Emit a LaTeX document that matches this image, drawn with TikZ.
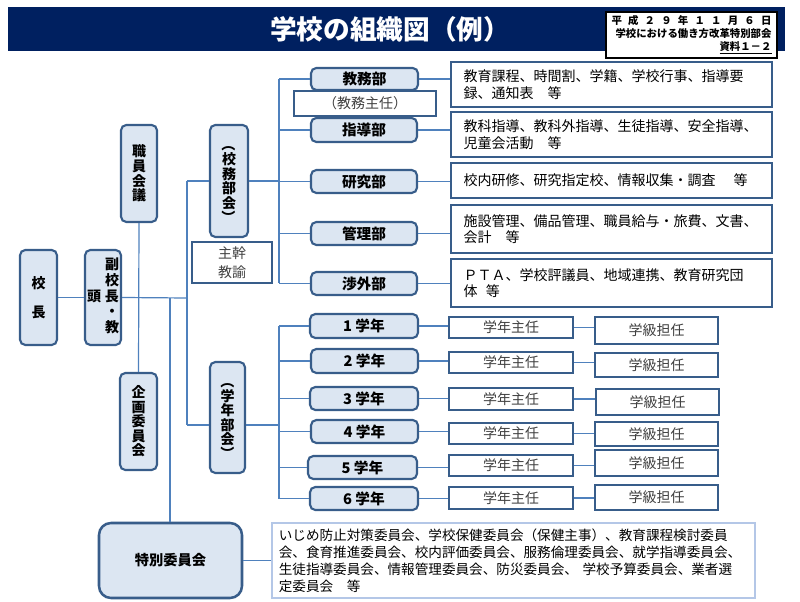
\documentclass[tikz,border=0pt]{standalone}
\usepackage{fontspec}
\setmainfont{Noto Sans CJK JP}
\definecolor{nodeF}{HTML}{DCE6F2}
\definecolor{nodeB}{HTML}{385D8A}
\definecolor{lineC}{HTML}{4F81BD}
\definecolor{titleC}{HTML}{002060}
\definecolor{thinB}{HTML}{B4C7E7}
\definecolor{txtG}{HTML}{404040}
\newcommand\mybox[7]{\node[#6, minimum width={(#4-#2)*0.75pt}, minimum height={(#5-#3)*0.75pt}] (#1) at ({(#2+#4)/2},{(#3+#5)/2}) {#7};}
\newcommand\vparL{\rotatebox[origin=c]{-90}{（}}
\newcommand\vparR{\rotatebox[origin=c]{-90}{）}}
\tikzset{
  lbox/.style={draw=nodeB, fill=nodeF, line width=1.6pt, rounded corners=4pt, inner sep=0pt, align=center, font=\bfseries\fontsize{10.5}{11}\selectfont},
  vbox/.style={lbox, font=\bfseries\fontsize{10.5}{10.9}\selectfont},
  wbox/.style={draw=nodeB, fill=white, line width=1.8pt, inner sep=0pt, align=center, text=txtG, font=\fontsize{10.5}{14.25}\selectfont},
  dbox/.style={draw=nodeB, fill=white, line width=1.9pt, inner sep=0pt, align=left, text=black, font=\fontsize{10.5}{12.4}\selectfont},
  conn/.style={draw=lineC, line width=0.9pt},
}
\begin{document}
\begin{tikzpicture}[x=0.75pt,y=-0.75pt]
\useasboundingbox (0,0) rectangle (800,602);
% title bar
\mybox{bar}{8}{7}{785}{51}{fill=titleC, inner sep=0pt}{}
\node[text=white, font=\bfseries\fontsize{20}{22}\selectfont] (title) at (390,29) {学校の組織図（例）};
\mybox{doc}{606}{12}{777}{58}{draw=black, fill=white, line width=0.9pt, inner sep=0pt, align=right, text width=120pt, font=\bfseries\fontsize{7.8}{9.6}\selectfont}{\makebox[120pt]{平\hfill 成\hfill ２\hfill ９\hfill 年\hfill １\hfill １\hfill 月\hfill ６\hfill 日}\\学校における働き方改革特別部会\\\underline{資料１－２}}
% left column
\mybox{kocho}{20}{250}{57}{345}{lbox, font=\bfseries\fontsize{10.5}{21.75}\selectfont}{校\\長}
\mybox{fuku}{85}{250}{121}{345}{lbox}{\begin{tabular}{@{}c@{\hspace{3pt}}c@{}} & 副\\ & 校\\ 頭 & 長\\ & ・\\ & 教\end{tabular}}
\mybox{shokuin}{121}{125}{157}{222}{vbox}{職\\員\\会\\議}
\mybox{kikaku}{120}{373}{157}{470}{vbox}{企\\画\\委\\員\\会}
\mybox{tokubetsu}{99}{523}{242}{598}{lbox, rounded corners=9pt, line width=1.9pt, font=\bfseries\fontsize{10.7}{12}\selectfont}{特別委員会}
\mybox{koumu}{210}{125}{248}{237}{vbox}{\vparL\\校\\務\\部\\会\\\vparR}
\mybox{shukan}{192}{242}{272}{283}{wbox}{主幹\\教諭}
\mybox{gakunen}{210}{362}{245}{473}{vbox}{\vparL\\学\\年\\部\\会\\\vparR}
% departments
\mybox{kyomu}{311}{68}{418}{90}{lbox, font=\bfseries\fontsize{11}{12}\selectfont}{教務部}
\mybox{kyomushu}{294}{91}{436}{116}{wbox}{（教務主任）}
\mybox{shido}{311}{118}{417}{142}{lbox, font=\bfseries\fontsize{11}{12}\selectfont}{指導部}
\mybox{kenkyu}{311}{170}{417}{193}{lbox, font=\bfseries\fontsize{11}{12}\selectfont}{研究部}
\mybox{kanri}{311}{222}{417}{245}{lbox, font=\bfseries\fontsize{11}{12}\selectfont}{管理部}
\mybox{shogai}{311}{272}{417}{295}{lbox, font=\bfseries\fontsize{11}{12}\selectfont}{渉外部}
% descriptions
\mybox{d1}{451}{62}{772}{107}{dbox, text width=222pt}{教育課程、時間割、学籍、学校行事、指導要\\録、通知表　等}
\mybox{d2}{451}{112}{772}{157}{dbox, text width=222pt}{教科指導、教科外指導、生徒指導、安全指導、\\児童会活動　等}
\mybox{d3}{451}{163}{772}{198}{dbox, text width=222pt}{校内研修、研究指定校、情報収集・調査\hspace{1.3em}等}
\mybox{d4}{451}{205}{772}{253}{dbox, text width=222pt}{施設管理、備品管理、職員給与・旅費、文書、\\会計　等}
\mybox{d5}{451}{259}{772}{307}{dbox, text width=222pt}{ＰＴＡ、学校評議員、地域連携、教育研究団\\体\hspace{0.6em}等}
% grades
\mybox{g1}{310}{314}{418}{338}{lbox, font=\bfseries\fontsize{11}{12}\selectfont}{1 学年}
\mybox{g2}{311}{349}{418}{373}{lbox, font=\bfseries\fontsize{11}{12}\selectfont}{2 学年}
\mybox{g3}{310}{387}{418}{410}{lbox, font=\bfseries\fontsize{11}{12}\selectfont}{3 学年}
\mybox{g4}{311}{420}{418}{443}{lbox, font=\bfseries\fontsize{11}{12}\selectfont}{4 学年}
\mybox{g5}{308}{456}{417}{479}{lbox, font=\bfseries\fontsize{11}{12}\selectfont}{5 学年}
\mybox{g6}{310}{487}{418}{510}{lbox, font=\bfseries\fontsize{11}{12}\selectfont}{6 学年}
\mybox{s1}{449}{317}{573}{338}{wbox}{学年主任}
\mybox{s2}{449}{352}{573}{373}{wbox}{学年主任}
\mybox{s3}{449}{388}{573}{410}{wbox}{学年主任}
\mybox{s4}{449}{423}{573}{444}{wbox}{学年主任}
\mybox{s5}{449}{455}{573}{476}{wbox}{学年主任}
\mybox{s6}{449}{487}{573}{509}{wbox}{学年主任}
\mybox{t1}{595}{317}{718}{344}{wbox}{学級担任}
\mybox{t2}{595}{353}{718}{377}{wbox}{学級担任}
\mybox{t3}{596}{389}{719}{415}{wbox}{学級担任}
\mybox{t4}{595}{422}{718}{446}{wbox}{学級担任}
\mybox{t5}{595}{450}{718}{476}{wbox}{学級担任}
\mybox{t6}{595}{485}{718}{510}{wbox}{学級担任}
% bottom list
\mybox{list}{272}{523}{755}{598}{draw=thinB, fill=white, line width=0.8pt, inner sep=0pt, align=left, text width=352pt, font=\fontsize{10.2}{12.75}\selectfont}{いじめ防止対策委員会、学校保健委員会（保健主事）、教育課程検討委員\\会、食育推進委員会、校内評価委員会、服務倫理委員会、就学指導委員会、\\生徒指導委員会、情報管理委員会、防災委員会、 学校予算委員会、業者選\\定委員会　等}
% connectors
\coordinate (j1) at (187,298);
\coordinate (j2) at (170,298);
\coordinate (v1t) at (187,182);
\coordinate (v1b) at (187,425);
\coordinate (rv) at (279,0);
\draw[conn] (kocho.east) -- (fuku.west);
\draw[conn] (fuku.east) -- (j1);
\draw[conn] (shokuin.south) -- (kikaku.north);
\draw[conn] (j2) -- (j2 |- tokubetsu.north);
\draw[conn] (koumu.west -| v1t) -- (v1b);
\draw[conn] (koumu.west) -- (koumu.west -| v1t);
\draw[conn] (v1b) -- (v1b -| gakunen.west);
\draw[conn] (koumu.east) -- (koumu.east -| rv);
\draw[conn] (v1b -| gakunen.east) -- (v1b -| rv);
\draw[conn] (kyomu.west -| rv) -- (shogai.west -| rv);
\foreach \n/\d in {kyomu/d1,shido/d2,kenkyu/d3,kanri/d4,shogai/d5}{
  \draw[conn] (\n.west -| rv) -- (\n.west);
  \draw[conn] (\n.east) -- (\n.east -| \d.west);
}
\draw[conn] (g1.west -| rv) -- (g6.west -| rv);
\foreach \i in {1,...,6}{
  \draw[conn] (g\i.west -| rv) -- (g\i.west);
  \draw[conn] (g\i.east) -- (g\i.east -| s\i.west);
  \draw[conn] (s\i.east) -- (s\i.east -| t\i.west);
}
\draw[conn] (tokubetsu.east) -- (tokubetsu.east -| list.west);
\end{tikzpicture}
\end{document}
